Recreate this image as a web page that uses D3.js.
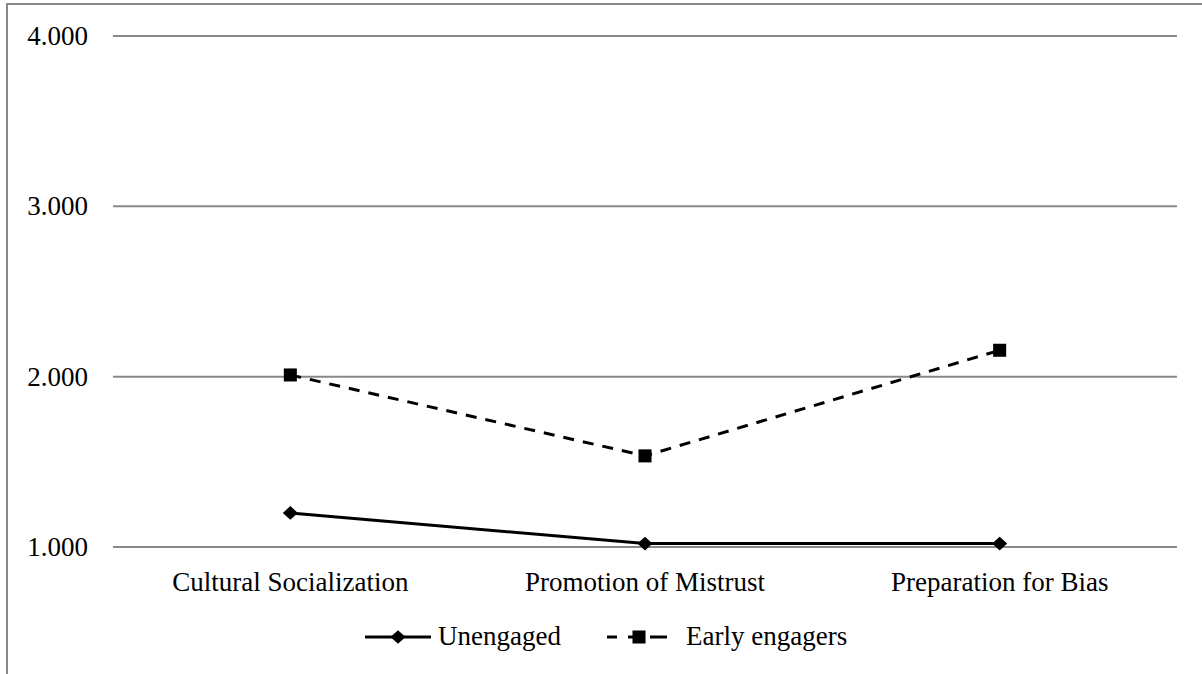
<!DOCTYPE html>
<html><head><meta charset="utf-8">
<script src="https://cdn.jsdelivr.net/npm/d3@7"></script>
<style>body{margin:0;background:#fff}svg{display:block}text{font-family:"Liberation Serif",serif;fill:#000}</style>
</head><body><svg id="c" width="1202" height="674"></svg>
<script>
const categories = ["Cultural Socialization", "Promotion of Mistrust", "Preparation for Bias"];
const unengaged = [1.20, 1.02, 1.02];
const earlyEngagers = [2.01, 1.535, 2.155];
const yTicks = [1, 2, 3, 4];
const seriesNames = ["Unengaged", "Early engagers"];
const FS = 27;
const FF = '"Liberation Serif",serif';

const svg = d3.select("#c");
svg.append("path").attr("d","M7,674 V4 H1202").attr("fill","none").attr("stroke","#888").attr("stroke-width",2);

const x = d3.scaleBand().domain(categories).range([113,1177]);
const y = d3.scaleLinear().domain([1,4]).range([547,36]);

svg.append("g").selectAll("line").data(yTicks).join("line")
  .attr("x1",113).attr("x2",1177).attr("y1",d=>y(d)).attr("y2",d=>y(d))
  .attr("stroke","#888").attr("stroke-width",2);

const yAxis = d3.axisLeft(y).tickValues(yTicks).tickFormat(d3.format(".3f")).tickSize(0).tickPadding(25);
const ya = svg.append("g").attr("transform","translate(113,0)").call(yAxis);
ya.select(".domain").remove();
ya.selectAll("text").attr("font-size",FS).style("font-family",FF);

const xAxis = d3.axisBottom(x).tickSize(0).tickPadding(25);
const xa = svg.append("g").attr("transform","translate(0,547)").call(xAxis);
xa.select(".domain").remove();
xa.selectAll("text").attr("font-size",FS).style("font-family",FF);

const cx = d => x(d) + x.bandwidth()/2;
const line = d3.line().x((d,i)=>cx(categories[i])).y(d=>y(d));

svg.append("path").datum(unengaged).attr("d",line).attr("fill","none").attr("stroke","#000").attr("stroke-width",3);
svg.append("path").datum(earlyEngagers).attr("d",line).attr("fill","none").attr("stroke","#000").attr("stroke-width",3).attr("stroke-dasharray","11,9");

const diamond = d3.symbol().type(d3.symbolDiamond2).size(120);
const square = d3.symbol().type(d3.symbolSquare).size(170);
svg.selectAll(".m1").data(unengaged).join("path").attr("class","m1")
  .attr("transform",(d,i)=>`translate(${cx(categories[i])},${y(d)}) scale(1.1,1)`).attr("d",diamond).attr("fill","#000");
svg.selectAll(".m2").data(earlyEngagers).join("path").attr("class","m2")
  .attr("transform",(d,i)=>`translate(${cx(categories[i])},${y(d)})`).attr("d",square).attr("fill","#000");

const lg = svg.append("g").attr("transform","translate(0,637)");
lg.append("line").attr("x1",365).attr("x2",431).attr("y1",0).attr("y2",0).attr("stroke","#000").attr("stroke-width",3);
lg.append("path").attr("transform","translate(398,0) scale(1.1,1)").attr("d",diamond).attr("fill","#000");
lg.append("text").attr("x",438).attr("y",8).attr("font-size",FS).text(seriesNames[0]);
lg.append("line").attr("x1",607).attr("x2",617).attr("y1",0).attr("y2",0).attr("stroke","#000").attr("stroke-width",3);
lg.append("line").attr("x1",628).attr("x2",667).attr("y1",0).attr("y2",0).attr("stroke","#000").attr("stroke-width",3).attr("stroke-dasharray","0,0");
lg.append("rect").attr("x",645).attr("y",-3).attr("width",5).attr("height",6).attr("fill","#fff");
lg.append("path").attr("transform","translate(639,0)").attr("d",square).attr("fill","#000");
lg.append("text").attr("x",686).attr("y",8).attr("font-size",FS).text(seriesNames[1]);
</script></body></html>
